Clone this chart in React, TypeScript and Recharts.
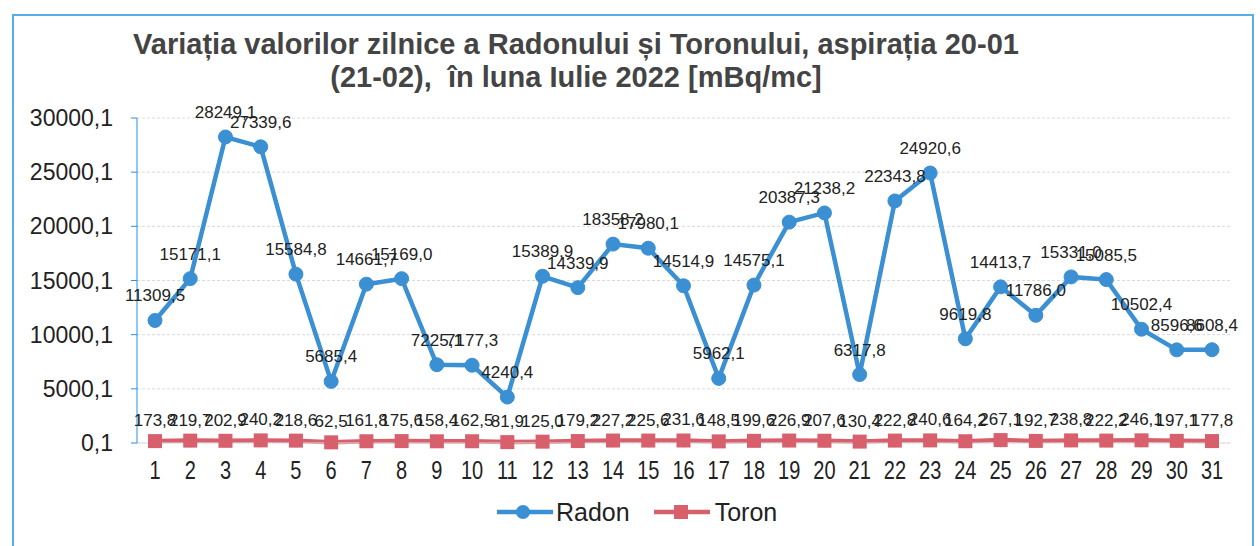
import { CartesianGrid, LabelList, Line, LineChart, XAxis, YAxis } from "recharts";

const days = Array.from({ length: 31 }, (_, i) => String(i + 1));

const radon = [
  11309.5, 15171.1, 28249.1, 27339.6, 15584.8, 5685.4, 14661.7, 15169.0, 7225.1, 7177.3,
  4240.4, 15389.9, 14339.9, 18358.2, 17980.1, 14514.9, 5962.1, 14575.1, 20387.3, 21238.2,
  6317.8, 22343.8, 24920.6, 9619.8, 14413.7, 11786.0, 15331.0, 15085.5, 10502.4, 8596.6,
  8608.4,
];

const toron = [
  173.8, 219.7, 202.9, 240.2, 218.6, 62.5, 161.8, 175.6, 158.4, 162.5,
  81.9, 125.0, 179.2, 227.2, 225.6, 231.6, 148.5, 199.6, 226.9, 207.6,
  130.4, 222.8, 240.6, 164.2, 267.1, 192.7, 238.8, 222.2, 246.1, 197.1,
  177.8,
];

const yTicks = [0.1, 5000.1, 10000.1, 15000.1, 20000.1, 25000.1, 30000.1];

const data = days.map((day, i) => ({ day, radon: radon[i], toron: toron[i] }));

const RADON = "#3b8fd3";
const TORON = "#d8606c";
const FONT = "'Liberation Sans', Arial, sans-serif";

const comma = (v: number) => v.toFixed(1).replace(".", ",");

function ToronSquare(props: any) {
  const { cx, cy } = props;
  if (cx == null || cy == null) return null;
  return <rect x={cx - 7} y={cy - 7} width={14} height={14} fill={TORON} />;
}

// narrow, tall day numbers like the original
function DayTick(props: any) {
  const { x, y, payload } = props;
  return (
    <text
      transform={`translate(${x},${y + 25}) scale(0.8,1)`}
      textAnchor="middle"
      fontSize={25}
      fill="#222"
      fontFamily={FONT}
    >
      {payload.value}
    </text>
  );
}

export default function App() {
  return (
    <div
      style={{
        position: "absolute",
        left: 0,
        top: 0,
        width: 1260,
        height: 546,
        background: "#fff",
        fontFamily: FONT,
        overflow: "hidden",
      }}
    >
      <div
        style={{
          position: "absolute",
          left: 12,
          top: 14,
          width: 1238,
          height: 540,
          border: "2px solid #5aaee8",
        }}
      />
      <div
        style={{
          position: "absolute",
          left: 0,
          top: 28,
          width: 1152,
          textAlign: "center",
          fontSize: 29,
          fontWeight: "bold",
          color: "#444",
          lineHeight: "33px",
          whiteSpace: "nowrap",
        }}
      >
        Variația valorilor zilnice a Radonului și Toronului, aspirația 20-01
        <br />
        (21-02),&nbsp; în luna Iulie 2022 [mBq/mc]
      </div>
      <LineChart
        width={1260}
        height={546}
        data={data}
        margin={{ top: 118, right: 30, left: 37, bottom: 73 }}
        style={{ position: "absolute", left: 0, top: 0 }}
      >
        <CartesianGrid vertical={false} stroke="#dadada" strokeDasharray="3 2" />
        <XAxis
          dataKey="day"
          padding={{ left: 18, right: 18 }}
          height={30}
          interval={0}
          tickSize={5}
          tickMargin={6}
          stroke="#ddd"
          tick={<DayTick />}
        />
        <YAxis
          width={100}
          domain={[0.1, 30000.1]}
          ticks={yTicks}
          tickFormatter={comma}
          stroke="#2a8fe0"
          tickSize={6}
          tickMargin={18}
          tick={{ fontSize: 23, fill: "#222", fontFamily: FONT }}
        />
        <Line
          dataKey="radon"
          stroke={RADON}
          strokeWidth={4.5}
          dot={{ r: 7, fill: RADON, stroke: RADON, strokeWidth: 1 }}
          isAnimationActive={false}
        >
          <LabelList
            dataKey="radon"
            position="top"
            offset={19}
            formatter={(v: any) => comma(Number(v))}
            style={{ fontSize: 17, fill: "#222", fontFamily: FONT }}
          />
        </Line>
        <Line
          dataKey="toron"
          stroke={TORON}
          strokeWidth={4.5}
          dot={<ToronSquare />}
          isAnimationActive={false}
        >
          <LabelList
            dataKey="toron"
            position="top"
            offset={15}
            formatter={(v: any) => comma(Number(v))}
            style={{ fontSize: 17, fill: "#222", fontFamily: FONT }}
          />
        </Line>
      </LineChart>
      <div
        style={{
          position: "absolute",
          left: 497,
          top: 497,
          display: "flex",
          alignItems: "center",
          fontSize: 25,
          lineHeight: "30px",
          color: "#222",
        }}
      >
        <svg width={56} height={20} style={{ marginRight: 3 }}>
          <line x1={0} y1={10} x2={56} y2={10} stroke={RADON} strokeWidth={4.5} />
          <circle cx={26} cy={10} r={7} fill={RADON} />
        </svg>
        <span>Radon</span>
        <svg width={56} height={20} style={{ marginLeft: 24, marginRight: 5 }}>
          <line x1={0} y1={10} x2={56} y2={10} stroke={TORON} strokeWidth={4.5} />
          <rect x={20} y={3} width={14} height={14} fill={TORON} />
        </svg>
        <span>Toron</span>
      </div>
    </div>
  );
}
